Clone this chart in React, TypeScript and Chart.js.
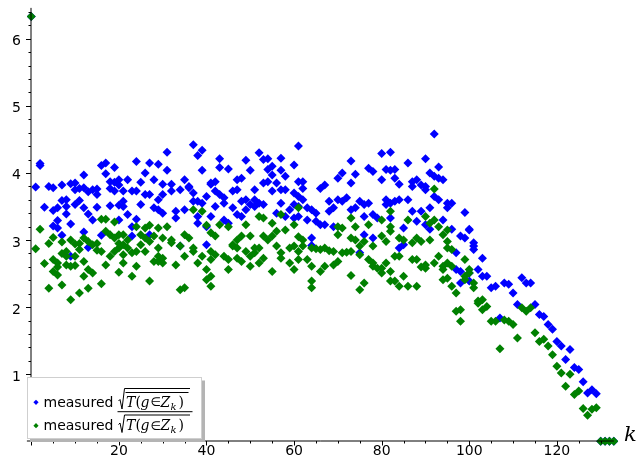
import React, { useEffect, useRef } from "react";
import { Chart, registerables } from "chart.js";

Chart.register(...registerables);

// index = k, values = measurements at that k
const blueByK: number[][] = [
  [6.33], [3.79], [4.14, 4.11], [3.49], [3.8], [3.78, 3.44, 3.21], [3.48, 3.29, 3.18], [3.82, 3.59, 3.07], [3.6, 3.5, 3.39], [3.84, 3.24, 2.76],
  [3.85, 3.75, 3.53], [3.77, 3.59], [3.97, 3.78, 3.48, 3.12], [3.72, 3.39, 2.89], [3.75, 3.3], [3.76, 3.68, 3.49], [4.11, 3.07], [4.15, 3.99], [3.87, 3.77, 3.51], [4.08, 3.86, 3.73],
  [3.9, 3.82, 3.52, 3.3], [3.73, 3.58, 3.5], [3.9, 3.38], [3.73, 3.2, 3.06], [4.17, 3.73, 3.31], [3.86, 3.53], [4.0, 3.68], [4.15, 3.68, 3.08], [3.9, 3.48], [4.13, 3.6, 3.45],
  [3.83, 3.68, 3.4], [4.31, 4.04], [3.83, 3.73], [3.43, 3.33], [3.75, 2.91], [3.9, 3.45], [3.8, 3.78], [4.42, 3.7, 3.58], [4.26, 3.58, 3.35, 3.25], [4.34, 4.04, 3.55],
  [3.65, 3.2, 2.93], [3.85, 3.83, 3.35], [3.87, 3.73, 3.5], [4.21, 4.08, 3.68], [3.63, 3.55, 3.3], [4.06, 3.25], [3.73, 3.48], [3.9, 3.75, 3.38], [3.92, 3.58, 3.35], [4.19, 3.6, 3.45],
  [4.04, 3.53], [3.75, 3.6, 3.5], [4.3, 3.55], [4.2, 3.85, 3.53], [4.21, 4.05, 3.87], [4.1, 3.97, 3.73], [3.85, 3.4], [4.22, 4.04, 3.75, 3.55], [3.95, 3.75, 3.35], [3.45],
  [4.12, 3.7, 3.53, 3.33], [4.4, 3.87, 3.65, 3.5, 3.35], [3.87, 3.77, 3.6], [3.48, 3.3], [3.45, 3.03, 2.92], [3.4, 3.28], [3.77, 3.23], [3.82, 3.23], [3.58, 3.43], [3.48, 3.2],
  [3.92, 3.6], [4.0, 3.58], [3.63], [4.18, 3.85, 3.45], [3.98, 3.48], [3.58, 2.81], [3.53, 3.35, 3.08], [4.07, 3.55], [4.02, 3.38, 3.03], [3.33],
  [4.29, 3.9], [4.05, 3.6, 3.53], [4.31, 4.04, 3.55, 3.33], [4.05, 3.92, 3.58], [3.83, 3.6, 2.88], [3.18, 2.93], [4.15, 3.6], [3.87, 3.8, 3.43], [3.9, 3.28], [3.82, 3.43],
  [4.21, 3.8, 3.75, 3.23], [4.0, 3.48, 3.16], [4.58, 3.95, 3.65], [4.09, 3.92, 3.6], [3.9, 3.3], [3.55, 3.48], [3.55, 3.16], [2.81, 2.56], [3.06, 2.53, 2.36], [3.41, 3.03],
  [3.16, 3.15, 2.51, 2.39], [2.96, 2.91, 2.86], [2.56], [2.73, 2.46], [2.46], [2.29], [2.31], [1.84], [2.36], [2.34],
  [2.21], [2.04], [2.44], [2.36], [2.36], [2.04], [1.89], [1.86], [1.74], [1.67],
  [1.49], [1.42], [1.22], [1.37], [1.1], [1.07], [0.89], [0.72], [0.77], [0.71],
  [0], [0], [0], [0],
];

const greenByK: number[][] = [
  [6.33], [2.87], [3.16], [2.65], [2.95, 2.28], [3.04, 2.71, 2.53], [2.66, 2.6, 2.48], [2.97, 2.8, 2.33], [2.83, 2.76, 2.63], [3.0, 2.61, 2.11],
  [2.94, 2.76, 2.62], [2.95, 2.86, 2.21], [3.03, 2.68, 2.46], [2.98, 2.56, 2.28], [2.93, 2.51], [2.95, 2.85], [3.31, 2.83, 2.35], [3.31, 3.13, 2.63], [3.08, 2.76], [3.27, 3.03, 2.83],
  [3.08, 2.95, 2.88, 2.52], [3.08, 2.93, 2.78, 2.66], [3.0, 2.88], [2.81, 2.46], [3.2, 2.83, 2.61], [3.08, 2.93], [3.18, 3.03, 2.83], [3.22, 2.98, 2.39], [3.06, 2.68], [3.18, 2.88, 2.76, 2.68],
  [3.03, 2.73, 2.66], [3.2], [3.0, 2.96], [2.63], [2.91, 2.26], [3.08, 2.76, 2.29], [3.03], [3.45, 2.88, 2.83], [2.66], [3.43, 2.76],
  [3.22, 2.56, 2.41], [3.11, 2.83, 2.71, 2.46, 2.31], [3.06, 2.78], [3.23], [2.76], [3.2, 2.71, 2.56], [2.93, 2.91], [3.0, 2.88, 2.73], [3.06, 2.68], [3.23, 2.83],
  [3.06, 2.76, 2.61], [2.88, 2.81], [3.35, 2.88, 2.66], [3.33, 3.06, 2.73], [3.0], [3.25, 3.06, 2.53], [3.13, 2.91], [3.38, 2.81, 2.73], [3.15], [2.88, 2.66],
  [3.23, 2.91, 2.56], [3.48, 3.05, 2.83, 2.71], [3.0, 2.91], [2.71], [2.88, 2.61, 2.39, 2.29], [2.87], [2.86, 2.53], [2.88, 2.61], [2.84], [2.83, 2.63],
  [3.2, 3.08, 2.68], [3.18, 2.81], [2.82], [3.33, 3.03, 2.83, 2.47], [3.2, 3.0], [2.91, 2.78, 2.26], [2.98, 2.36], [3.23, 2.71], [2.91, 2.66, 2.61], [2.58],
  [3.3, 3.06, 2.58, 2.51], [2.98, 2.66], [3.43, 3.2, 3.13, 2.53, 2.39], [2.76, 2.39], [3.03, 2.76, 2.31], [3.0, 2.46], [3.3, 2.31], [2.96, 2.71], [3.03, 2.71, 2.31], [2.98, 2.6],
  [3.35, 2.63, 2.58], [3.25, 3.0], [3.76, 3.3, 2.66], [3.2, 2.76], [3.08, 2.61, 2.56, 2.41], [3.15, 2.98, 2.88, 2.66, 2.43], [2.86, 2.61, 2.31], [2.21, 1.94], [1.96, 1.79], [2.71, 2.46, 2.41],
  [2.56, 2.51], [2.36, 2.29], [2.09, 2.06], [2.11, 1.96], [2.01], [1.79], [1.79], [1.38], [1.81], [1.79],
  [1.74], [1.54], [1.99], [1.94], [1.99], [1.62], [1.49], [1.52], [1.42], [1.29],
  [1.12], [1.02], [0.82], [1.0], [0.7], [0.75], [0.49], [0.39], [0.48], [0.5],
  [0], [0], [0], [0],
];

const xTickLabels = [20, 40, 60, 80, 100, 120];
const yTickLabels = [1, 2, 3, 4, 5, 6];
const legendTexts = ["measured", "measured"];
const BLUE = "#0000ff";
const GREEN = "#008000";

const toPoints = (byK: number[][]) =>
  byK.flatMap((vals, k) => vals.map((v) => ({ x: k, y: v })));

function diamond(ctx: CanvasRenderingContext2D, x: number, y: number, r: number, color: string) {
  ctx.beginPath();
  ctx.moveTo(x - r, y);
  ctx.lineTo(x, y - r);
  ctx.lineTo(x + r, y);
  ctx.lineTo(x, y + r);
  ctx.closePath();
  ctx.fillStyle = color;
  ctx.fill();
}

const axesPlugin = {
  id: "sageAxes",
  afterDatasetsDraw(chart: any) {
    const ctx: CanvasRenderingContext2D = chart.ctx;
    const xs = chart.scales.x;
    const ys = chart.scales.y;
    const X = (v: number) => xs.getPixelForValue(v);
    const Y = (v: number) => ys.getPixelForValue(v);
    const ax = Math.round(X(0));
    const ay = Math.round(Y(0));
    ctx.save();
    ctx.strokeStyle = "#000";
    ctx.lineWidth = 1;
    ctx.beginPath();
    ctx.moveTo(X(-1), ay);
    ctx.lineTo(X(133), ay);
    ctx.moveTo(ax, ay + 1);
    ctx.lineTo(ax, Y(6.46));
    for (let i = 1; i <= 32; i++) {
      const py = Math.round(Y(i * 0.2)) + 0.5;
      const len = i % 5 === 0 ? 5 : 2.5;
      ctx.moveTo(ax, py);
      ctx.lineTo(ax - len, py);
    }
    for (let i = 0; i <= 26; i++) {
      const px = Math.round(X(i * 5)) + 0.5;
      const len = i % 4 === 0 ? 4.5 : 2.5;
      ctx.moveTo(px, ay);
      ctx.lineTo(px, ay + len);
    }
    ctx.stroke();

    ctx.fillStyle = "#000";
    ctx.font = '14px "DejaVu Sans"';
    ctx.textAlign = "right";
    ctx.textBaseline = "alphabetic";
    yTickLabels.forEach((v) => ctx.fillText(String(v), ax - 10, Y(v) + 6.5));
    ctx.textAlign = "center";
    xTickLabels.forEach((v) => ctx.fillText(String(v), X(v), ay + 13.5));

    ctx.textAlign = "left";
    ctx.font = 'italic 21px "DejaVu Serif"';
    ctx.fillText("k", 624, ay - 0.5);
    ctx.restore();
  },
  afterDraw(chart: any) {
    const ctx: CanvasRenderingContext2D = chart.ctx;
    ctx.save();
    ctx.fillStyle = "#b4b4b4";
    ctx.fillRect(30, 380.5, 175, 61.5);
    ctx.fillStyle = "#fff";
    ctx.fillRect(27, 377.5, 175, 61);
    ctx.strokeStyle = "#cfcfcf";
    ctx.lineWidth = 1;
    ctx.strokeRect(27.5, 377.5, 174, 61);

    const rows = [
      { color: BLUE, cy: 402.3, base: 406.5, variant: 0 },
      { color: GREEN, cy: 425.7, base: 430, variant: 1 },
    ];
    rows.forEach((r, i) => {
      diamond(ctx, 36, r.cy, 2.6, r.color);
      ctx.fillStyle = "#000";
      ctx.font = '14px "DejaVu Sans"';
      ctx.textAlign = "left";
      ctx.textBaseline = "alphabetic";
      ctx.fillText(legendTexts[i], 43.5, r.base);

      const b = r.base;
      const vincY = r.variant === 0 ? b - 18 : b - 15;
      ctx.strokeStyle = "#000";
      ctx.lineWidth = 1;
      ctx.beginPath();
      ctx.moveTo(118.5, b - 5.5);
      ctx.lineTo(120, b - 7);
      ctx.lineTo(122, b + 2.5);
      ctx.lineTo(124.5, vincY);
      ctx.lineTo(190, vincY);
      if (r.variant === 0) {
        ctx.moveTo(125.5, b - 14);
        ctx.lineTo(188.5, b - 14);
      } else {
        ctx.moveTo(117.5, b - 18.3);
        ctx.lineTo(192.5, b - 18.3);
      }
      ctx.stroke();

      ctx.fillStyle = "#000";
      ctx.font = 'italic 14px "DejaVu Serif"';
      ctx.fillText("T", 126, b);
      ctx.font = '14px "DejaVu Serif"';
      ctx.fillText("(", 135.5, b);
      ctx.font = 'italic 14px "DejaVu Serif"';
      ctx.fillText("g", 140.5, b);
      ctx.font = '12px "DejaVu Sans"';
      ctx.fillText("\u2208", 150.5, b - 0.5);
      ctx.font = 'italic 14px "DejaVu Serif"';
      ctx.fillText("Z", 160.5, b);
      ctx.font = 'italic 10px "DejaVu Serif"';
      ctx.fillText("k", 170.5, b + 3);
      ctx.font = '14px "DejaVu Serif"';
      ctx.fillText(")", 178.5, b);
    });
    ctx.restore();
  },
};

export default function App() {
  const ref = useRef<HTMLCanvasElement | null>(null);
  useEffect(() => {
    if (!ref.current) return;
    const chart = new Chart(ref.current, {
      type: "scatter",
      data: {
        datasets: [
          {
            label: "blue",
            data: toPoints(blueByK),
            pointStyle: "rectRot",
            pointRadius: 4.5,
            pointBorderWidth: 0,
            backgroundColor: BLUE,
            borderColor: BLUE,
            order: 1,
          },
          {
            label: "green",
            data: toPoints(greenByK),
            pointStyle: "rectRot",
            pointRadius: 4.5,
            pointBorderWidth: 0,
            backgroundColor: GREEN,
            borderColor: GREEN,
            order: 0,
          },
        ],
      },
      options: {
        responsive: false,
        animation: false,
        devicePixelRatio: 1,
        layout: { padding: { left: 26.9, right: 19.8, top: 5.2, bottom: 3.8 } },
        scales: {
          x: { type: "linear", min: -1, max: 134, display: false },
          y: { type: "linear", min: -0.3, max: 6.5, display: false },
        },
        plugins: { legend: { display: false }, tooltip: { enabled: false } },
      },
      plugins: [axesPlugin],
    } as any);
    return () => chart.destroy();
  }, []);
  return (
    <div style={{ position: "fixed", left: 0, top: 0, width: 638, height: 466, background: "#fff" }}>
      <canvas ref={ref} width={638} height={466} />
    </div>
  );
}
